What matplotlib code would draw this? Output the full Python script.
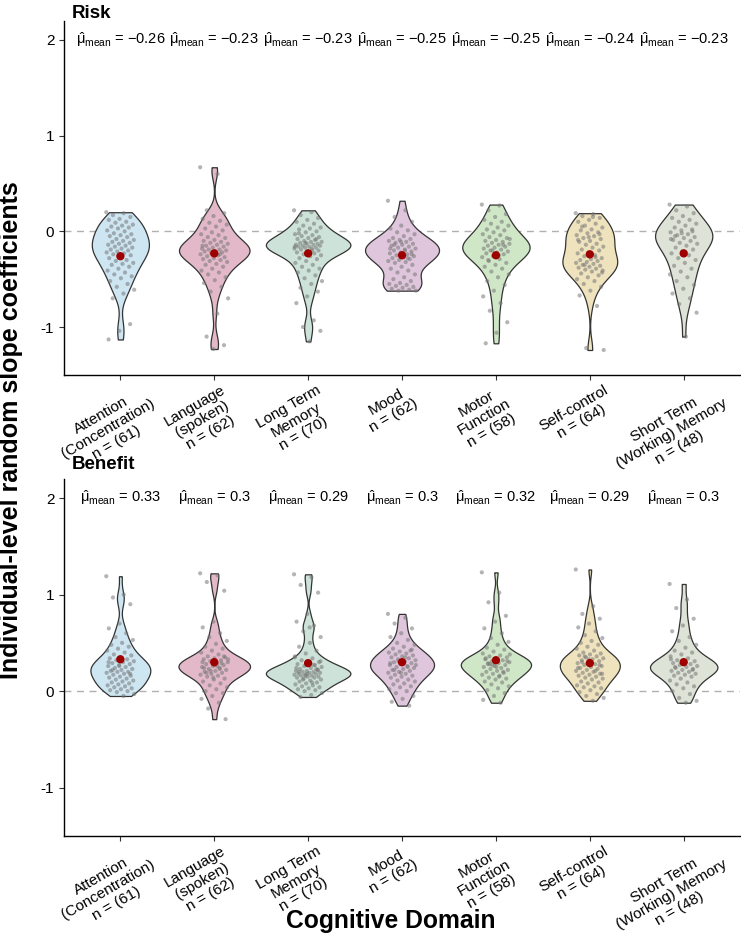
import numpy as np
import matplotlib
matplotlib.use("Agg")
import matplotlib.pyplot as plt
import matplotlib.transforms as mtransforms

plt.rcParams['font.family'] = ['Liberation Sans', 'DejaVu Sans']
plt.rcParams['mathtext.fontset'] = 'custom'
plt.rcParams['mathtext.rm'] = 'Liberation Sans'
plt.rcParams['mathtext.it'] = 'Liberation Sans:italic'
plt.rcParams['mathtext.bf'] = 'Liberation Sans:bold'
plt.rcParams['axes.unicode_minus'] = False

domains = ["Attention\n(Concentration)\nn = (61)", "Language\n(spoken)\nn = (62)",
           "Long Term\nMemory\nn = (70)", "Mood\nn = (62)", "Motor\nFunction\nn = (58)",
           "Self-control\nn = (64)", "Short Term\n(Working) Memory\nn = (48)"]
colors = ['#cde6f2', '#e3b9c9', '#cde3d9', '#dfc6dc', '#d0e7c7', '#efe3be', '#dde3d6']

risk_mu = [-0.26, -0.23, -0.23, -0.25, -0.25, -0.24, -0.23]
benefit_mu = [0.33, 0.3, 0.29, 0.3, 0.32, 0.29, 0.3]

# individual random slopes, risk
risk_att = [0.20, 0.19, 0.17, 0.15, 0.13, 0.12, 0.10, 0.09, 0.07, 0.06,
            0.05, 0.04, 0.03, 0.01, 0.00, -0.02, -0.03, -0.04, -0.05, -0.06,
            -0.08, -0.09, -0.10, -0.11, -0.12, -0.13, -0.14, -0.15, -0.16, -0.17,
            -0.18, -0.19, -0.20, -0.21, -0.22, -0.23, -0.24, -0.25, -0.26, -0.28,
            -0.30, -0.31, -0.33, -0.34, -0.35, -0.37, -0.39, -0.41, -0.43, -0.45,
            -0.47, -0.49, -0.52, -0.55, -0.58, -0.61, -0.65, -0.70, -0.97, -1.04,
            -1.13]
risk_lang = [0.67, 0.60, 0.22, 0.19, 0.16, 0.13, 0.11, 0.09, 0.07, 0.05,
             0.03, 0.01, -0.01, -0.03, -0.04, -0.06, -0.07, -0.09, -0.10, -0.11,
             -0.12, -0.13, -0.14, -0.15, -0.16, -0.17, -0.18, -0.19, -0.19, -0.20,
             -0.21, -0.21, -0.22, -0.23, -0.24, -0.25, -0.26, -0.27, -0.28, -0.29,
             -0.30, -0.31, -0.32, -0.34, -0.35, -0.37, -0.39, -0.41, -0.43, -0.45,
             -0.48, -0.51, -0.54, -0.58, -0.63, -0.70, -0.86, -1.10, -1.19, -1.23,
             -0.15, -0.24]
risk_ltm = [0.22, 0.20, 0.17, 0.14, 0.12, 0.10, 0.08, 0.06, 0.04, 0.03,
            0.02, 0.00, -0.01, -0.03, -0.04, -0.05, -0.06, -0.07, -0.08, -0.09,
            -0.10, -0.11, -0.11, -0.12, -0.13, -0.13, -0.14, -0.14, -0.15, -0.15,
            -0.16, -0.16, -0.17, -0.17, -0.18, -0.18, -0.19, -0.20, -0.21, -0.22,
            -0.23, -0.24, -0.25, -0.26, -0.28, -0.29, -0.31, -0.33, -0.35, -0.37,
            -0.39, -0.41, -0.43, -0.46, -0.49, -0.52, -0.55, -0.59, -0.63, -0.68,
            -0.75, -0.93, -1.00, -1.04, -1.15, -0.02, -0.08, -0.12, -0.16, -0.20]
risk_mood = [0.32, 0.22, 0.15, 0.10, 0.06, 0.03, 0.01, -0.01, -0.03, -0.05,
             -0.07, -0.08, -0.09, -0.10, -0.11, -0.12, -0.13, -0.14, -0.15, -0.16,
             -0.17, -0.18, -0.19, -0.20, -0.21, -0.22, -0.23, -0.24, -0.25, -0.26,
             -0.27, -0.28, -0.29, -0.30, -0.31, -0.32, -0.33, -0.35, -0.37, -0.39,
             -0.41, -0.43, -0.45, -0.48, -0.50, -0.52, -0.54, -0.55, -0.56, -0.57,
             -0.58, -0.59, -0.60, -0.61, -0.62, -0.62, -0.20, -0.14, -0.24, -0.11,
             -0.18, -0.28]
risk_motor = [0.28, 0.27, 0.22, 0.18, 0.15, 0.12, 0.10, 0.08, 0.06, 0.04,
              0.02, 0.01, -0.01, -0.03, -0.04, -0.06, -0.07, -0.09, -0.10, -0.11,
              -0.12, -0.13, -0.14, -0.15, -0.16, -0.17, -0.18, -0.19, -0.20, -0.21,
              -0.22, -0.23, -0.24, -0.26, -0.27, -0.29, -0.31, -0.33, -0.35, -0.37,
              -0.39, -0.42, -0.45, -0.48, -0.52, -0.56, -0.62, -0.68, -0.75, -0.83,
              -0.95, -1.06, -1.17, -0.14, -0.20, -0.08, -0.25, -0.30]
risk_self = [0.19, 0.18, 0.16, 0.14, 0.12, 0.10, 0.08, 0.06, 0.04, 0.02,
             0.01, -0.01, -0.02, -0.04, -0.05, -0.07, -0.08, -0.10, -0.11, -0.13,
             -0.14, -0.16, -0.17, -0.19, -0.20, -0.22, -0.23, -0.25, -0.26, -0.28,
             -0.29, -0.30, -0.31, -0.32, -0.33, -0.34, -0.35, -0.36, -0.37, -0.38,
             -0.39, -0.40, -0.41, -0.42, -0.44, -0.46, -0.48, -0.50, -0.52, -0.55,
             -0.58, -0.62, -0.67, -0.78, -1.22, -1.24, 0.15, 0.05, -0.03, -0.06,
             -0.09, -0.27, -0.35, -0.43]
risk_stm = [0.28, 0.26, 0.22, 0.19, 0.16, 0.14, 0.12, 0.10, 0.08, 0.06,
            0.04, 0.02, 0.01, -0.01, -0.03, -0.04, -0.06, -0.07, -0.09, -0.10,
            -0.12, -0.13, -0.15, -0.17, -0.19, -0.21, -0.23, -0.25, -0.28, -0.30,
            -0.33, -0.36, -0.39, -0.42, -0.45, -0.48, -0.52, -0.56, -0.60, -0.65,
            -0.70, -0.76, -0.85, -1.10, -0.05, 0.00, -0.02, -0.08]

# individual random slopes, benefit
ben_att = [1.19, 1.00, 0.97, 0.90, 0.70, 0.65, 0.60, 0.56, 0.53, 0.50,
           0.48, 0.46, 0.44, 0.42, 0.40, 0.38, 0.37, 0.35, 0.34, 0.33,
           0.32, 0.31, 0.30, 0.29, 0.28, 0.27, 0.26, 0.25, 0.24, 0.23,
           0.22, 0.21, 0.20, 0.20, 0.19, 0.18, 0.17, 0.16, 0.15, 0.14,
           0.13, 0.12, 0.11, 0.10, 0.09, 0.08, 0.07, 0.06, 0.05, 0.04,
           0.03, 0.02, 0.01, 0.00, -0.01, -0.03, -0.05, 0.22, 0.18, 0.26,
           0.30]
ben_lang = [1.22, 1.20, 1.13, 1.04, 0.72, 0.66, 0.60, 0.56, 0.52, 0.49,
            0.46, 0.44, 0.42, 0.40, 0.38, 0.36, 0.35, 0.34, 0.33, 0.32,
            0.31, 0.30, 0.29, 0.28, 0.27, 0.26, 0.25, 0.24, 0.23, 0.22,
            0.21, 0.20, 0.19, 0.18, 0.17, 0.16, 0.15, 0.13, 0.12, 0.10,
            0.08, 0.06, 0.04, 0.02, 0.00, -0.02, -0.05, -0.08, -0.12, -0.18,
            -0.29, 0.27, 0.24, 0.29, 0.21, 0.33, 0.26, 0.19, 0.36, 0.14,
            0.30, 0.23]
ben_ltm = [1.21, 1.18, 1.10, 1.02, 0.80, 0.72, 0.68, 0.62, 0.56, 0.50,
           0.46, 0.42, 0.39, 0.36, 0.34, 0.32, 0.30, 0.29, 0.28, 0.27,
           0.26, 0.25, 0.24, 0.23, 0.22, 0.21, 0.21, 0.20, 0.20, 0.19,
           0.19, 0.18, 0.18, 0.17, 0.17, 0.16, 0.16, 0.15, 0.15, 0.14,
           0.14, 0.13, 0.12, 0.11, 0.10, 0.09, 0.08, 0.07, 0.06, 0.05,
           0.04, 0.03, 0.02, 0.01, 0.00, -0.02, -0.04, -0.06, 0.22, 0.18,
           0.24, 0.27, 0.12, 0.31, 0.66, 0.20, 0.23, 0.16, 0.35, 0.09]
ben_mood = [0.80, 0.76, 0.70, 0.65, 0.60, 0.56, 0.53, 0.50, 0.48, 0.46,
            0.44, 0.42, 0.41, 0.40, 0.39, 0.38, 0.37, 0.36, 0.35, 0.34,
            0.33, 0.32, 0.31, 0.30, 0.29, 0.28, 0.27, 0.26, 0.25, 0.24,
            0.23, 0.22, 0.21, 0.20, 0.19, 0.18, 0.17, 0.16, 0.15, 0.14,
            0.12, 0.11, 0.10, 0.08, 0.07, 0.05, 0.04, 0.02, 0.00, -0.02,
            -0.05, -0.08, -0.11, -0.15, 0.31, 0.27, 0.35, 0.22, 0.43, 0.19,
            0.29, 0.25]
ben_motor = [1.23, 1.02, 0.92, 0.78, 0.72, 0.65, 0.60, 0.55, 0.51, 0.48,
             0.45, 0.43, 0.41, 0.39, 0.37, 0.36, 0.35, 0.34, 0.33, 0.32,
             0.31, 0.30, 0.29, 0.28, 0.27, 0.26, 0.25, 0.24, 0.23, 0.22,
             0.21, 0.20, 0.19, 0.18, 0.17, 0.16, 0.14, 0.13, 0.12, 0.10,
             0.09, 0.07, 0.05, 0.03, 0.01, -0.02, -0.05, -0.09, -0.12, 0.28,
             0.31, 0.25, 0.34, 0.20, 0.27, 0.38, 0.15, 0.29]
ben_self = [1.26, 0.88, 0.80, 0.75, 0.70, 0.66, 0.62, 0.58, 0.55, 0.52,
            0.50, 0.48, 0.46, 0.44, 0.42, 0.40, 0.39, 0.38, 0.37, 0.36,
            0.35, 0.34, 0.33, 0.32, 0.31, 0.30, 0.29, 0.28, 0.27, 0.26,
            0.25, 0.24, 0.23, 0.22, 0.21, 0.20, 0.19, 0.18, 0.17, 0.16,
            0.15, 0.14, 0.13, 0.12, 0.10, 0.09, 0.08, 0.06, 0.05, 0.04,
            0.03, 0.01, -0.01, -0.03, -0.05, -0.07, -0.10, 0.30, 0.27, 0.33,
            0.24, 0.21, 0.36, 0.18]
ben_stm = [1.11, 0.95, 0.86, 0.75, 0.68, 0.62, 0.56, 0.52, 0.48, 0.45,
           0.42, 0.40, 0.38, 0.36, 0.34, 0.32, 0.31, 0.30, 0.29, 0.28,
           0.27, 0.26, 0.25, 0.24, 0.23, 0.22, 0.21, 0.20, 0.19, 0.18,
           0.17, 0.16, 0.15, 0.13, 0.11, 0.09, 0.07, 0.05, 0.03, 0.00,
           -0.03, -0.07, -0.10, -0.12, 0.25, 0.22, 0.29, 0.33]

risk_data = [risk_att, risk_lang, risk_ltm, risk_mood, risk_motor, risk_self, risk_stm]
ben_data = [ben_att, ben_lang, ben_ltm, ben_mood, ben_motor, ben_self, ben_stm]


def kde(vals):
    x = np.asarray(vals, float)
    n = len(x)
    q75, q25 = np.percentile(x, [75, 25])
    lo = min(x.std(ddof=1), (q75 - q25) / 1.34)
    bw = 0.9 * lo * n ** -0.2
    grid = np.linspace(x.min(), x.max(), 512)
    d = np.exp(-0.5 * ((grid[:, None] - x[None, :]) / bw) ** 2).sum(1) / (n * bw * np.sqrt(2 * np.pi))
    return grid, d


def panel(ax, data, mus, title, title_y):
    kd = [kde(v) for v in data]
    dmax = max(d.max() for _, d in kd)
    ax.axhline(0, color='#b0b0b0', lw=1, ls=(0, (5, 4)), zorder=0)
    for i, (vals, (g, d)) in enumerate(zip(data, kd)):
        pos = i + 1
        hw = 0.45 * d / dmax
        ax.fill_betweenx(g, pos - hw, pos + hw, facecolor=colors[i],
                         edgecolor='#333333', lw=0.9, zorder=1)
        n = len(vals)
        jit = ((np.arange(n) * 0.618034) % 1 - 0.5) * 0.3
        ax.scatter(pos + jit, vals, s=9, color='#777777', alpha=0.55,
                   edgecolors='none', zorder=2)
        ax.scatter([pos], [mus[i]], s=36, color='#9e0000', zorder=3,
                   edgecolors='none')
        ax.text(pos, 2.0, r'$\hat{\mathrm{μ}}_{\mathrm{mean}}$ = %s' % ('%g' % mus[i]).replace('-', '\u2212'),
                ha='center', va='center', fontsize=10.5)
    ax.set_xlim(0.4, 7.6)
    ax.set_ylim(-1.5, 2.2)
    ax.set_yticks([-1, 0, 1, 2])
    ax.set_xticks(range(1, 8))
    ax.set_xticklabels([])
    # rotated category labels, placed below each tick
    trans = mtransforms.blended_transform_factory(ax.transData, ax.transAxes)
    off = mtransforms.ScaledTranslation(-12 / 100, -8 / 100, ax.figure.dpi_scale_trans)
    for i, lab in enumerate(domains):
        ax.text(i + 1, 0, lab, transform=trans + off, rotation=30,
                rotation_mode='default', ha='center', va='top',
                multialignment='center', fontsize=11, linespacing=1.15)
    ax.tick_params(axis='y', labelsize=11, length=3.5, color='#333333')
    ax.tick_params(axis='x', length=3.5, color='#333333')
    for s in ['top', 'right']:
        ax.spines[s].set_visible(False)
    ax.spines['left'].set_linewidth(1)
    ax.spines['bottom'].set_linewidth(1)
    ax.text(0.012, title_y, title, transform=ax.transAxes, fontsize=13.5,
            fontweight='bold', ha='left', va='baseline')


fig = plt.figure(figsize=(7.41, 9.44), dpi=100)
ax1 = fig.add_axes([0.0864, 0.6029, 0.9123, 0.375])
ax2 = fig.add_axes([0.0864, 0.1144, 0.9123, 0.3785])
panel(ax1, risk_data, risk_mu, 'Risk', 1.008)
panel(ax2, ben_data, benefit_mu, 'Benefit', 1.026)

fig.text(0.015, 0.5445, 'Individual-level random slope coefficients', rotation=90,
         ha='center', va='center', fontsize=18, fontweight='bold')
fig.text(0.528, 0.024, 'Cognitive Domain', ha='center', va='center',
         fontsize=17.7, fontweight='bold')

fig.savefig('out.png', dpi=100)
